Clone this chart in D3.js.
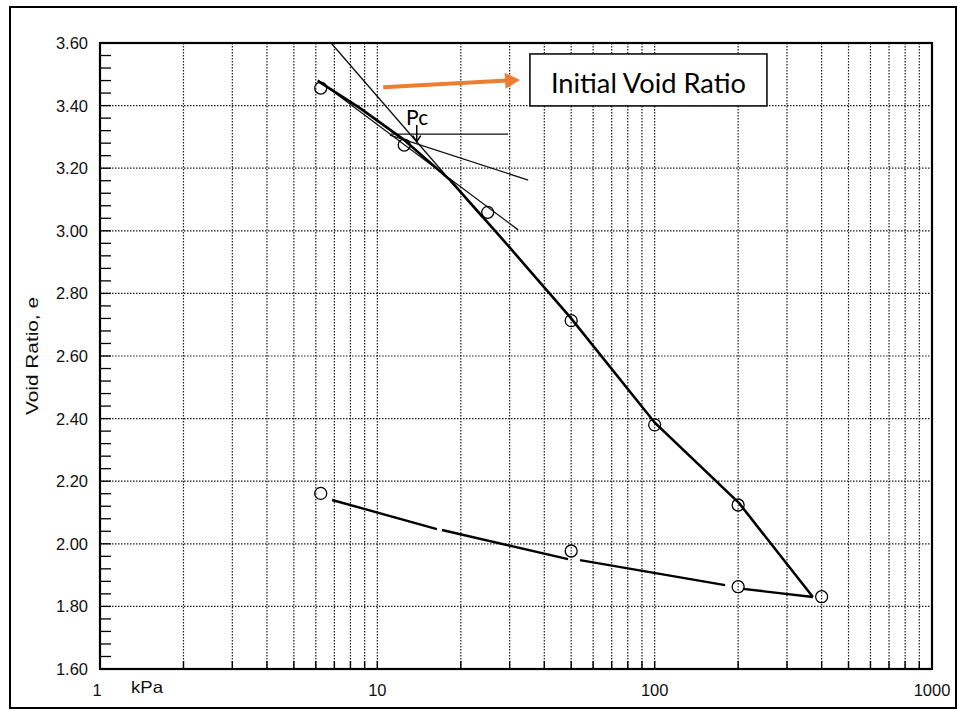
<!DOCTYPE html>
<html>
<head>
<meta charset="utf-8">
<script src="https://cdn.jsdelivr.net/npm/d3@7"></script>
<style>
  body { margin: 0; background: #fff; }
  svg { display: block; }
  .lbl { font-family: "Liberation Sans", Arial, sans-serif; font-size: 16.5px; fill: #111; }
</style>
</head>
<body>
<svg id="chart" width="958" height="710"></svg>
<script>
// measured points (loading then unloading)
const loadPressure = [6.25, 12.5, 25, 50, 100, 200, 400];
const loadVoid = [3.456, 3.274, 3.059, 2.713, 2.380, 2.124, 1.831];
const unloadPressure = [200, 50, 6.25];
const unloadVoid = [1.863, 1.977, 2.161];

// hand drawn compression curve
const curvePressure = [6.1, 8.66, 12.38, 18.3, 28.4, 49.9, 100.3, 201.6, 372];
const curveVoid = [3.479, 3.392, 3.293, 3.162, 2.971, 2.721, 2.386, 2.130, 1.830];

// hand drawn rebound curve, drawn in broken pieces
const reboundSegments = [
  [[6.87, 2.140], [16.4, 2.047]],
  [[17.1, 2.044], [48.7, 1.951]],
  [[53.8, 1.948], [179.5, 1.868]],
  [[208, 1.856], [372, 1.830]]
];

// Casagrande construction lines
const virginExtension = [[6.81, 3.60], [24.0, 3.041]];
const tangentLine = [[6.1, 3.482], [32.2, 3.003]];
const bisectorLine = [[11.1, 3.306], [35.0, 3.162]];
const horizontalLine = [[11.2, 3.309], [29.6, 3.309]];

const yTickValues = [1.6, 1.8, 2.0, 2.2, 2.4, 2.6, 2.8, 3.0, 3.2, 3.4, 3.6];
const xTickValues = [1, 10, 100, 1000];

const svg = d3.select("#chart");

const x = d3.scaleLog().domain([1, 1000]).range([100, 932]);
const y = d3.scaleLinear().domain([1.6, 3.6]).range([669, 43]);

// outer frame
svg.append("rect")
  .attr("x", 10).attr("y", 7)
  .attr("width", 946).attr("height", 701)
  .attr("fill", "none").attr("stroke", "#000").attr("stroke-width", 2);

const grid = svg.append("g");

// vertical dotted grid (every log minor)
grid.selectAll(".vg")
  .data(x.ticks().filter(d => d > 1 && d < 1000))
  .enter().append("line")
  .attr("x1", d => x(d)).attr("x2", d => x(d))
  .attr("y1", y(3.6)).attr("y2", y(1.6))
  .attr("stroke", "#1a1a1a").attr("stroke-width", 1.2)
  .attr("stroke-dasharray", "1.5,1.5");

// horizontal dotted grid
grid.selectAll(".hg")
  .data(yTickValues.filter(d => d > 1.6 && d < 3.6))
  .enter().append("line")
  .attr("x1", x(1)).attr("x2", x(1000))
  .attr("y1", d => y(d)).attr("y2", d => y(d))
  .attr("stroke", "#1a1a1a").attr("stroke-width", 1.2)
  .attr("stroke-dasharray", "1.5,1.5");

// y axis minor ticks (inside)
const yMinor = d3.range(40, 90, 1).map(i => i * 0.04).filter(d => d > 1.6 && d < 3.6);
grid.selectAll(".ym")
  .data(yMinor)
  .enter().append("line")
  .attr("x1", x(1)).attr("x2", x(1) + 11)
  .attr("y1", d => y(d)).attr("y2", d => y(d))
  .attr("stroke", "#000").attr("stroke-width", 1.3);

// x axis minor ticks (inside)
grid.selectAll(".xm")
  .data(x.ticks().filter(d => d > 1 && d < 1000))
  .enter().append("line")
  .attr("x1", d => x(d)).attr("x2", d => x(d))
  .attr("y1", y(1.6)).attr("y2", y(1.6) - 8)
  .attr("stroke", "#000").attr("stroke-width", 1.4);

// plot border
svg.append("rect")
  .attr("x", x(1)).attr("y", y(3.6))
  .attr("width", x(1000) - x(1)).attr("height", y(1.6) - y(3.6))
  .attr("fill", "none").attr("stroke", "#000").attr("stroke-width", 2.2);

// tick labels
svg.selectAll(".yl")
  .data(yTickValues)
  .enter().append("text")
  .attr("class", "lbl")
  .attr("x", 88).attr("y", d => y(d))
  .attr("dy", "0.36em")
  .attr("text-anchor", "end")
  .text(d => d3.format(".2f")(d));

svg.selectAll(".xl")
  .data(xTickValues)
  .enter().append("text")
  .attr("class", "lbl")
  .attr("x", d => x(d) - (d === 1 ? 3 : 0)).attr("y", 696)
  .attr("text-anchor", "middle")
  .text(d => d);

svg.append("text")
  .attr("class", "lbl")
  .attr("x", 131).attr("y", 693)
  .attr("textLength", 32).attr("lengthAdjust", "spacingAndGlyphs")
  .text("kPa");

svg.append("text")
  .attr("class", "lbl")
  .attr("transform", "translate(38,356) rotate(-90)")
  .attr("text-anchor", "middle")
  .attr("textLength", 118).attr("lengthAdjust", "spacingAndGlyphs")
  .text("Void  Ratio,  e");

const line = d3.line().x(d => x(d[0])).y(d => y(d[1]));

// construction lines
[virginExtension, tangentLine, bisectorLine, horizontalLine].forEach(seg => {
  svg.append("path")
    .attr("d", line(seg))
    .attr("fill", "none").attr("stroke", "#111").attr("stroke-width", 1.3);
});

// compression curve
svg.append("path")
  .attr("d", line(d3.zip(curvePressure, curveVoid)))
  .attr("fill", "none").attr("stroke", "#000").attr("stroke-width", 2.6);

// rebound curve
reboundSegments.forEach(seg => {
  svg.append("path")
    .attr("d", line(seg))
    .attr("fill", "none").attr("stroke", "#000").attr("stroke-width", 2.4);
});

// data circles
svg.selectAll(".pt")
  .data(d3.zip(loadPressure, loadVoid).concat(d3.zip(unloadPressure, unloadVoid)))
  .enter().append("circle")
  .attr("cx", d => x(d[0])).attr("cy", d => y(d[1]))
  .attr("r", 6)
  .attr("fill", "none").attr("stroke", "#000").attr("stroke-width", 1.3);

// Pc annotation
svg.append("text")
  .attr("x", x(12.7)).attr("y", y(3.338))
  .style("font-family", "Lato, sans-serif")
  .style("font-size", "21px")
  .text("Pc");

svg.append("line")
  .attr("x1", x(13.87)).attr("x2", x(13.87))
  .attr("y1", y(3.338)).attr("y2", y(3.285))
  .attr("stroke", "#000").attr("stroke-width", 1.5);
svg.append("path")
  .attr("d", "M" + (x(13.87) - 4) + "," + (y(3.285) - 6) + "L" + x(13.87) + "," + y(3.285) + "L" + (x(13.87) + 4) + "," + (y(3.285) - 6))
  .attr("fill", "none").attr("stroke", "#000").attr("stroke-width", 1.5);

// orange arrow to label
const arrowStart = [10.5, 3.459], arrowEnd = [32.7, 3.482];
const ax0 = x(arrowStart[0]), ay0 = y(arrowStart[1]);
const ax1 = x(arrowEnd[0]), ay1 = y(arrowEnd[1]);
const ang = Math.atan2(ay1 - ay0, ax1 - ax0);
svg.append("line")
  .attr("x1", ax0).attr("y1", ay0)
  .attr("x2", ax1 - 13 * Math.cos(ang)).attr("y2", ay1 - 13 * Math.sin(ang))
  .attr("stroke", "#ED7D31").attr("stroke-width", 4);
svg.append("path")
  .attr("d", "M" + ax1 + "," + ay1 +
    "L" + (ax1 - 15 * Math.cos(ang) - 8 * Math.sin(ang)) + "," + (ay1 - 15 * Math.sin(ang) + 8 * Math.cos(ang)) +
    "L" + (ax1 - 15 * Math.cos(ang) + 8 * Math.sin(ang)) + "," + (ay1 - 15 * Math.sin(ang) - 8 * Math.cos(ang)) + "Z")
  .attr("fill", "#ED7D31");

// label box
const boxP = [35.5, 254], boxE = [3.565, 3.399];
svg.append("rect")
  .attr("x", x(boxP[0])).attr("y", y(boxE[0]))
  .attr("width", x(boxP[1]) - x(boxP[0])).attr("height", y(boxE[1]) - y(boxE[0]))
  .attr("fill", "#fff").attr("stroke", "#000").attr("stroke-width", 1.5);
svg.append("text")
  .attr("x", x(boxP[0]) + 21).attr("y", y(boxE[1]) - 13)
  .attr("textLength", 195).attr("lengthAdjust", "spacingAndGlyphs")
  .style("font-family", "Lato, sans-serif")
  .style("font-size", "27px")
  .text("Initial Void Ratio");
</script>
</body>
</html>
